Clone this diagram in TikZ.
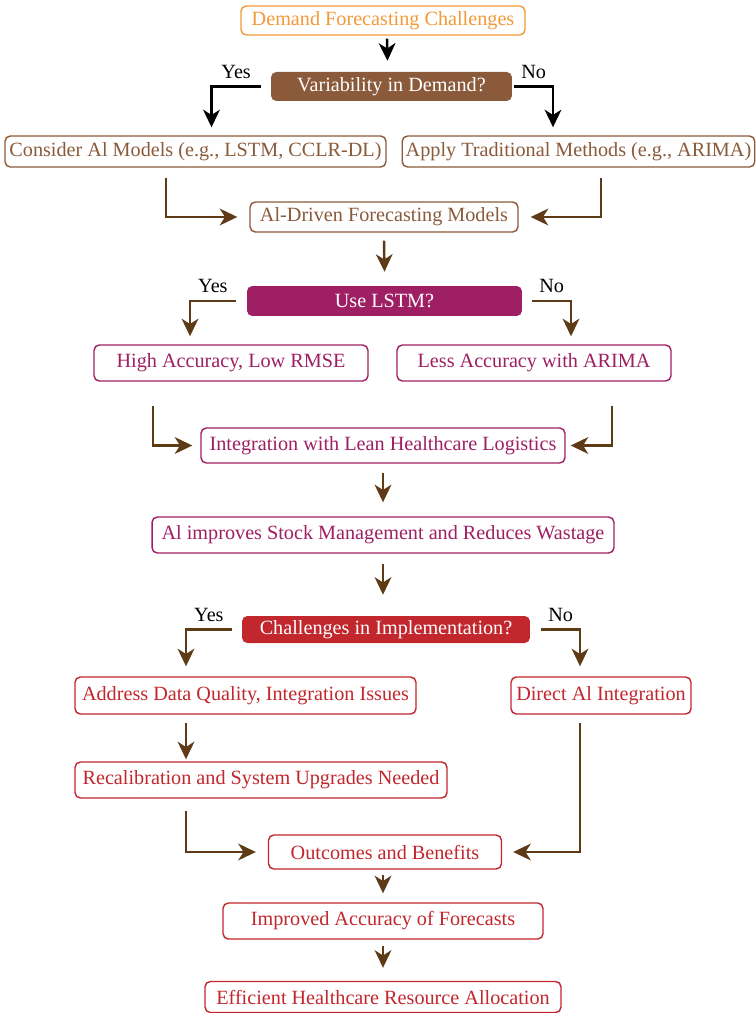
\documentclass[tikz,border=0pt]{standalone}
\usepackage{fontspec}
\setmainfont{Liberation Serif}
\usetikzlibrary{calc,arrows.meta}

\definecolor{orng}{HTML}{F29A38}
\definecolor{brwn}{HTML}{8A5A3B}
\definecolor{purp}{HTML}{9E1F63}
\definecolor{rd}{HTML}{C1272D}
\definecolor{conn}{HTML}{5E3A17}

\tikzset{
  box/.style={draw, rounded corners=3pt, line width=0.8pt, fill=white, inner sep=2pt},
  decide/.style={rounded corners=3pt, text=white, inner sep=2pt},
  lab/.style={text=black, inner sep=1pt},
}

\begin{document}
\begin{tikzpicture}[x=0.02cm,y=-0.02cm,font=\fontsize{11.5}{13}\selectfont,
    >={Stealth[length=10pt,width=9.5pt,inset=3pt]},line width=1.4pt]
      \useasboundingbox (0,0) rectangle (755,1013);

      \node [box,draw=orng,text=orng,minimum width=5.68cm,minimum height=0.58cm] (1) at (383,20.5) {Demand Forecasting Challenges};
      \node [decide,fill=brwn,minimum width=4.82cm,minimum height=0.58cm] (2) at (391.5,86.5) {Variability in Demand?};
      \node [box,draw=brwn,text=brwn,minimum width=7.62cm,minimum height=0.62cm] (3) at (195.5,151.5) {Consider Al Models (e.g., LSTM, CCLR-DL)};
      \node [box,draw=brwn,text=brwn,minimum width=6.94cm,minimum height=0.62cm] (4) at (578.5,151.5) {Apply Traditional Methods (e.g., ARIMA)};
      \node [box,draw=brwn,text=brwn,minimum width=5.36cm,minimum height=0.6cm] (5) at (384,217) {Al-Driven Forecasting Models};
      \node [decide,fill=purp,minimum width=5.5cm,minimum height=0.6cm] (6) at (384.5,301) {Use LSTM?};
      \node [box,draw=purp,text=purp,minimum width=5.48cm,minimum height=0.72cm] (7) at (231,363) {High Accuracy, Low RMSE};
      \node [box,draw=purp,text=purp,minimum width=5.48cm,minimum height=0.72cm] (8) at (534,363) {Less Accuracy with ARIMA};
      \node [box,draw=purp,text=purp,minimum width=7.28cm,minimum height=0.7cm] (9) at (383,445.5) {Integration with Lean Healthcare Logistics};
      \node [box,draw=purp,text=purp,minimum width=9.24cm,minimum height=0.72cm] (10) at (383,535) {Al improves Stock Management and Reduces Wastage};
      \node [decide,fill=rd,minimum width=5.76cm,minimum height=0.54cm] (11) at (386,629.5) {Challenges in Implementation?};
      \node [box,draw=rd,text=rd,minimum width=6.82cm,minimum height=0.74cm] (12) at (245.5,695.5) {Address Data Quality, Integration Issues};
      \node [box,draw=rd,text=rd,minimum width=3.6cm,minimum height=0.74cm] (13) at (601,695.5) {Direct Al Integration};
      \node [box,draw=rd,text=rd,minimum width=7.44cm,minimum height=0.72cm] (14) at (261,780) {Recalibration and System Upgrades Needed};
      \node [box,draw=rd,text=rd,minimum width=4.66cm,minimum height=0.68cm] (15) at (385,852) {Outcomes and Benefits};
      \node [box,draw=rd,text=rd,minimum width=6.4cm,minimum height=0.72cm] (16) at (383,921) {Improved Accuracy of Forecasts};
      \node [box,draw=rd,text=rd,minimum width=7.12cm,minimum height=0.62cm] (17) at (383,997) {Efficient Healthcare Resource Allocation};

      \draw[->] ($(1.south)+(4,3)$) -- ($(2.north)+(-4,-10)$);
      \draw[->] ($(2.west)+(-9,0)$) -| node[lab,pos=0.25,above=3pt] {Yes} ($(3.north)+(16,-8)$);
      \draw[->] ($(2.east)+(1,0)$) -| node[lab,pos=0.25,above=3pt] {No} ($(4.north)+(-25.5,-8)$);
      \draw[->,conn] ($(3.south)+(-29.5,10)$) |- ($(5.west)+(-12,0)$);
      \draw[->,conn] ($(4.south)+(22.5,10)$) |- ($(5.east)+(12,0)$);
      \draw[->,conn] ($(5.south)+(0,8)$) -- ($(6.north)+(0,-13)$);
      \draw[->,conn] ($(6.west)+(-10,0)$) -| node[lab,pos=0.25,above=3pt] {Yes} ($(7.north)+(-41,-8)$);
      \draw[->,conn] ($(6.east)+(9,0)$) -| node[lab,pos=0.25,above=3pt] {No} ($(8.north)+(37,-8)$);
      \draw[->,conn] ($(7.south)+(-78,24)$) |- ($(9.west)+(-8,0)$);
      \draw[->,conn] ($(8.south)+(78,24)$) |- ($(9.east)+(5,0)$);
      \draw[->,conn] ($(9.south)+(0,9)$) -- ($(10.north)+(0,-14)$);
      \draw[->,conn] ($(10.south)+(0,10)$) -- ($(11.north)+(-3,-20)$);
      \draw[->,conn] ($(11.west)+(-9,0)$) -| node[lab,pos=0.25,above=3pt] {Yes} ($(12.north)+(-59.5,-10)$);
      \draw[->,conn] ($(11.east)+(10,0)$) -| node[lab,pos=0.25,above=3pt] {No} ($(13.north)+(-21,-10)$);
      \draw[->,conn] ($(12.south)+(-59.5,8)$) -- ($(14.north)+(-75,-2)$);
      \draw[->,conn] ($(14.south)+(-75,12)$) |- ($(15.west)+(-12,0)$);
      \draw[->,conn] ($(13.south)+(-21,8)$) |- ($(15.east)+(11,0)$);
      \draw[->,conn] ($(15.south)+(-2,5)$) -- ($(16.north)+(0,-9)$);
      \draw[->,conn] ($(16.south)+(0,6)$) -- ($(17.north)+(0,-13)$);
    \end{tikzpicture}
\end{document}
